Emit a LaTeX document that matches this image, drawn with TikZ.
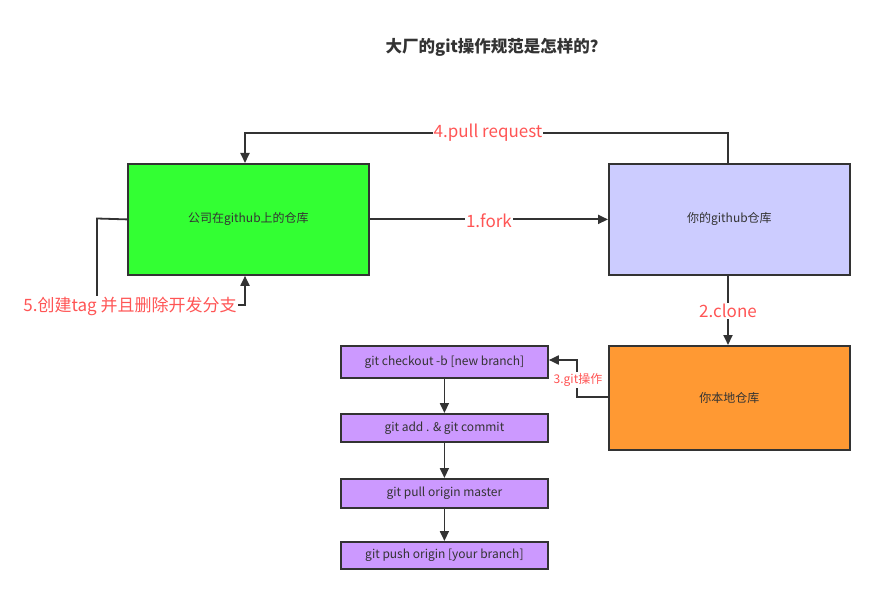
\documentclass[tikz,border=0pt]{standalone}
\usepackage{fontspec}
\setmainfont{Noto Sans CJK SC}
\usetikzlibrary{arrows.meta}
\definecolor{ln}{HTML}{333333}
\definecolor{lab}{HTML}{FF5555}
\definecolor{gr}{HTML}{33FF33}
\definecolor{bl}{HTML}{CCCCFF}
\definecolor{orng}{HTML}{FF9933}
\definecolor{pur}{HTML}{CC99FF}
\tikzset{
  box/.style={draw=ln, line width=1.8pt, text=ln, font=\fontsize{12}{14}\selectfont, inner sep=0pt, anchor=north west},
  conn/.style={draw=ln, line width=1.8pt, -{Triangle[length=10pt,width=9pt]}},
  lbl/.style={text=lab, fill=white, inner sep=1pt, font=\fontsize{17}{20}\selectfont},
}
\begin{document}
\begin{tikzpicture}[x=1pt,y=-1pt]
\useasboundingbox (0,0) rectangle (874,593);
\node[font=\bfseries\fontsize{16.5}{19}\selectfont, text=ln] (title) at (496,47) {大厂的git操作规范是怎样的？};

\node[box, fill=gr, minimum width=241pt, minimum height=111pt] (comp) at (127,163) {公司在github上的仓库};
\node[box, fill=bl, minimum width=241pt, minimum height=111pt] (mine) at (608,163) {你的github仓库};
\node[box, fill=orng, minimum width=241pt, minimum height=104pt] (local) at (608,345) {你本地仓库};

\node[box, fill=pur, minimum width=207pt, minimum height=32pt] (b1) at (340,345) {git checkout -b [new branch]};
\node[box, fill=pur, minimum width=207pt, minimum height=28pt] (b2) at (340,413) {git add . \& git commit};
\node[box, fill=pur, minimum width=207pt, minimum height=29pt] (b3) at (340,478) {git pull origin master};
\node[box, fill=pur, minimum width=207pt, minimum height=27pt] (b4) at (340,541) {git push origin [your branch]};

% 1.fork
\draw[conn] (comp.east) -- (mine.west) node[lbl, midway, yshift=-1pt] (l1) {1.fork};
% 4.pull request
\coordinate (p4a) at (728,133);
\coordinate (p4b) at (245,133);
\draw[conn] (mine.north -| p4a) -- (p4a) -- (p4b) -- (comp.north -| p4b);
\node[lbl] (l4) at (488,133) {4.pull request};
% 2.clone
\draw[conn] (mine.south -| 728,0) -- (local.north -| 728,0);
\node[lbl] (l2) at (728,311) {2.clone};
% 3.git操作
\coordinate (p3a) at (577,397);
\coordinate (p3b) at (577,360);
\draw[conn] (local.west |- p3a) -- (p3a) -- (p3b) -- (b1.east |- p3b);
\node[lbl, font=\fontsize{12}{14}\selectfont] (l3) at (578,380) {3.git操作};
% 5
\coordinate (p5a) at (97,218.5);
\coordinate (p5b) at (97,305);
\coordinate (p5c) at (245,305);
\draw[conn] (comp.west) -- (p5a) -- (p5b) -- (p5c) -- (comp.south -| p5c);
\node[lbl] (l5) at (130,306) {5.创建tag 并且删除开发分支};
% vertical chain
\draw[conn] (b1) -- (b2);
\draw[conn] (b2) -- (b3);
\draw[conn] (b3) -- (b4);
\end{tikzpicture}
\end{document}
